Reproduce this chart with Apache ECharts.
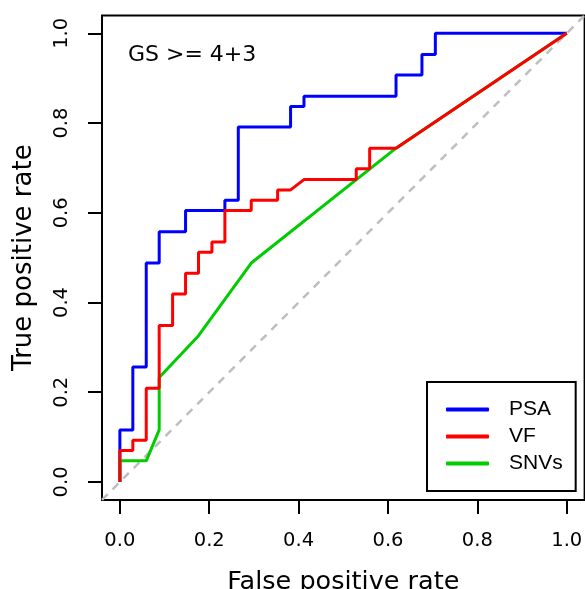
<!DOCTYPE html>
<html>
<head>
<meta charset="utf-8">
<script src="https://cdn.jsdelivr.net/npm/echarts@6/dist/echarts.min.js"></script>
<style>
html,body{margin:0;padding:0;background:#fff;}
#chart{width:585px;height:589px;}
</style>
</head>
<body>
<div id="chart"></div>
<script>
// ---- data ----
const seriesNames = ['PSA', 'VF', 'SNVs'];
const tickValues = [0, 0.2, 0.4, 0.6, 0.8, 1.0];
const tickLabels = ['0.0', '0.2', '0.4', '0.6', '0.8', '1.0'];

const psaFPR = [0, 0, 0.029, 0.029, 0.059, 0.059, 0.088, 0.088, 0.147, 0.147, 0.235, 0.235, 0.265, 0.265, 0.382, 0.382, 0.412, 0.412, 0.618, 0.618, 0.676, 0.676, 0.706, 0.706, 1.0];
const psaTPR = [0, 0.116, 0.116, 0.256, 0.256, 0.488, 0.488, 0.558, 0.558, 0.605, 0.605, 0.628, 0.628, 0.791, 0.791, 0.837, 0.837, 0.860, 0.860, 0.907, 0.907, 0.953, 0.953, 1.0, 1.0];

const vfFPR = [0, 0, 0.029, 0.029, 0.059, 0.059, 0.088, 0.088, 0.118, 0.118, 0.147, 0.147, 0.176, 0.176, 0.206, 0.206, 0.235, 0.235, 0.294, 0.294, 0.353, 0.353, 0.382, 0.412, 0.529, 0.529, 0.559, 0.559, 0.618, 1.0];
const vfTPR = [0, 0.070, 0.070, 0.093, 0.093, 0.209, 0.209, 0.349, 0.349, 0.419, 0.419, 0.465, 0.465, 0.512, 0.512, 0.535, 0.535, 0.605, 0.605, 0.628, 0.628, 0.651, 0.651, 0.674, 0.674, 0.698, 0.698, 0.744, 0.744, 1.0];

const snvFPR = [0, 0, 0.059, 0.088, 0.088, 0.176, 0.294, 0.618, 1.0];
const snvTPR = [0, 0.047, 0.047, 0.116, 0.233, 0.326, 0.488, 0.744, 1.0];

const chanceX = [-0.04, 1.04];
const chanceY = [-0.04, 1.04];

const colors = ['#0000FF', '#FF0000', '#00CC00'];

function pairs(xs, ys) { return xs.map((x, i) => [x, ys[i]]); }

const chart = echarts.init(document.getElementById('chart'), null, {renderer: 'canvas'});

const axisCommon = {
  type: 'value',
  min: -0.04,
  max: 1.04,
  splitLine: {show: false},
  axisLine: {show: false, onZero: false},
  axisTick: {show: true, customValues: tickValues, length: 14, lineStyle: {color: '#000', width: 2}},
  axisLabel: {
    customValues: tickValues,
    formatter: v => tickLabels[tickValues.indexOf(Math.round(v * 10) / 10)],
    color: '#000', fontFamily: 'DejaVu Sans', fontSize: 19.5, margin: 31.5
  },
  nameLocation: 'middle',
  nameTextStyle: {color: '#000', fontFamily: 'DejaVu Sans'}
};

const option = {
  animation: false,
  backgroundColor: '#fff',
  title: {
    text: 'GS >= 4+3', left: 128, top: 44, padding: 0,
    textStyle: {color: '#000', fontFamily: 'DejaVu Sans', fontSize: 22, fontWeight: 'normal'}
  },
  grid: {
    left: 102, top: 15.4, right: 0.4, bottom: 89.1,
    outerBoundsMode: 'none', containLabel: false,
    show: true, borderColor: '#000', borderWidth: 2, backgroundColor: 'transparent'
  },
  xAxis: Object.assign({}, axisCommon, {
    name: 'False positive rate', nameGap: 69,
    nameTextStyle: {color: '#000', fontFamily: 'DejaVu Sans', fontSize: 25.5}
  }),
  yAxis: Object.assign({}, axisCommon, {
    name: 'True positive rate', nameGap: 65,
    axisLabel: Object.assign({}, axisCommon.axisLabel, {rotate: 90, margin: 30.5}),
    nameTextStyle: {color: '#000', fontFamily: 'DejaVu Sans', fontSize: 26}
  }),
  legend: {
    data: seriesNames,
    orient: 'vertical',
    left: 427, top: 382,
    borderColor: '#000', borderWidth: 2,
    padding: [17, 13, 17, 19],
    itemWidth: 43, itemHeight: 4, itemGap: 6,
    icon: 'roundRect',
    textStyle: {color: '#000', fontFamily: 'Liberation Sans', fontSize: 21, padding: [0, 0, 0, 15]}
  },
  series: [
    {
      name: 'chance', type: 'line', data: pairs(chanceX, chanceY), symbol: 'none',
      lineStyle: {color: '#BEBEBE', width: 2.5, type: [8, 7]}, z: 1, silent: true
    },
    {
      name: seriesNames[0], type: 'line', data: pairs(psaFPR, psaTPR), symbol: 'none',
      itemStyle: {color: colors[0]}, lineStyle: {color: colors[0], width: 3}, z: 2
    },
    {
      name: seriesNames[2], type: 'line', data: pairs(snvFPR, snvTPR), symbol: 'none',
      itemStyle: {color: colors[2]}, lineStyle: {color: colors[2], width: 3}, z: 3
    },
    {
      name: seriesNames[1], type: 'line', data: pairs(vfFPR, vfTPR), symbol: 'none',
      itemStyle: {color: colors[1]}, lineStyle: {color: colors[1], width: 3}, z: 4
    }
  ]
};
chart.setOption(option);
</script>
</body>
</html>
